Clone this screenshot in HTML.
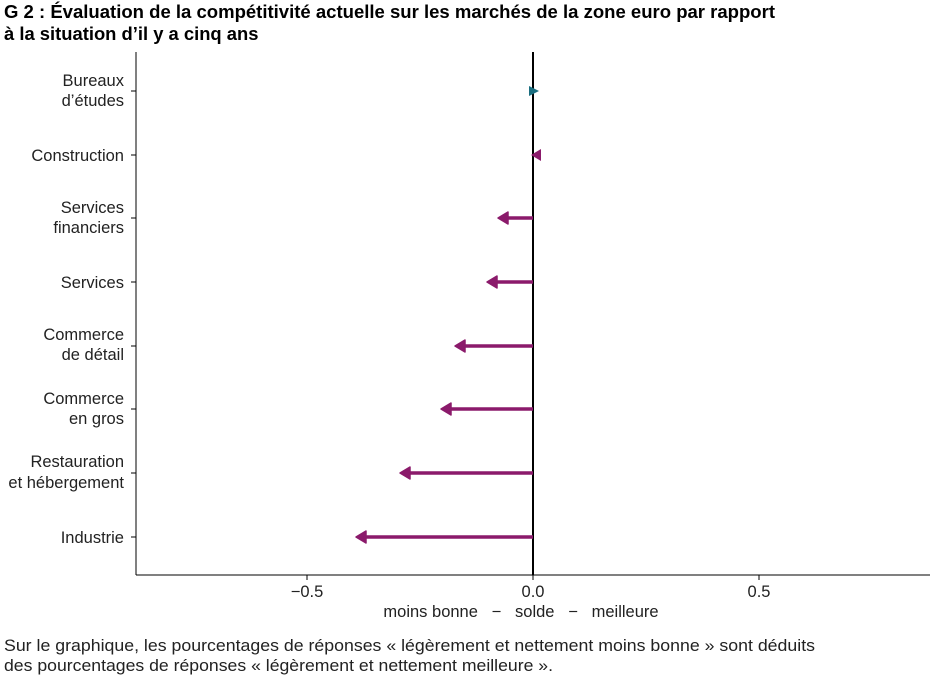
<!DOCTYPE html>
<html><head><meta charset="utf-8"><style>
body{margin:0;background:#fff;width:930px;height:678px;overflow:hidden;font-family:"Liberation Sans",sans-serif}
</style></head><body>
<svg width="930" height="678" xmlns="http://www.w3.org/2000/svg" font-family="Liberation Sans, sans-serif">
<text x="4" y="18" font-size="18.4" font-weight="bold" fill="#000" textLength="771" lengthAdjust="spacingAndGlyphs">G 2 : Évaluation de la compétitivité actuelle sur les marchés de la zone euro par rapport</text>
<text x="4" y="40" font-size="18.4" font-weight="bold" fill="#000">à la situation d’il y a cinq ans</text>
<line x1="136" y1="52" x2="136" y2="575" stroke="#000" stroke-width="1"/>
<line x1="136" y1="575" x2="930" y2="575" stroke="#000" stroke-width="1"/>
<line x1="533" y1="52" x2="533" y2="575" stroke="#000" stroke-width="2"/>
<g stroke="#000" stroke-width="1">
<line x1="131" y1="91" x2="136" y2="91"/><line x1="131" y1="155" x2="136" y2="155"/>
<line x1="131" y1="218" x2="136" y2="218"/><line x1="131" y1="282" x2="136" y2="282"/>
<line x1="131" y1="346" x2="136" y2="346"/><line x1="131" y1="409" x2="136" y2="409"/>
<line x1="131" y1="473" x2="136" y2="473"/><line x1="131" y1="537" x2="136" y2="537"/>
<line x1="307" y1="575" x2="307" y2="580"/><line x1="533" y1="575" x2="533" y2="580"/><line x1="759" y1="575" x2="759" y2="580"/>
</g>
<g font-size="16.5" fill="#222" text-anchor="end">
<text x="124" y="86">Bureaux</text><text x="124" y="106">d’études</text>
<text x="124" y="161">Construction</text>
<text x="124" y="213">Services</text><text x="124" y="233">financiers</text>
<text x="124" y="288">Services</text>
<text x="124" y="340">Commerce</text><text x="124" y="360">de détail</text>
<text x="124" y="404">Commerce</text><text x="124" y="424">en gros</text>
<text x="124" y="467">Restauration</text><text x="124" y="488">et hébergement</text>
<text x="124" y="543">Industrie</text>
</g>
<g font-size="16.5" fill="#222" text-anchor="middle">
<text x="307" y="597">−0.5</text><text x="533" y="597">0.0</text><text x="759" y="597">0.5</text>
<text x="521" y="617" xml:space="preserve">moins bonne   −   solde   −   meilleure</text>
</g>
<polygon points="529,86 539,91 529,96" fill="#1a6e80"/>
<polygon points="541,149 531,155 541,161" fill="#8b1a6b"/>
<g stroke="#8b1a6b" stroke-width="3.5">
<line x1="533" y1="218" x2="504" y2="218"/>
<line x1="533" y1="282" x2="493" y2="282"/>
<line x1="533" y1="346" x2="461" y2="346"/>
<line x1="533" y1="409" x2="447" y2="409"/>
<line x1="533" y1="473" x2="406" y2="473"/>
<line x1="533" y1="537" x2="362" y2="537"/>
</g>
<g fill="#8b1a6b" stroke="#8b1a6b" stroke-width="1.5" stroke-linejoin="round">
<polygon points="508,212 498,218 508,224"/>
<polygon points="497,276 487,282 497,288"/>
<polygon points="465,340 455,346 465,352"/>
<polygon points="451,403 441,409 451,415"/>
<polygon points="410,467 400,473 410,479"/>
<polygon points="366,531 356,537 366,543"/>
</g>
<text x="4" y="651" font-size="16.5" fill="#222" textLength="811" lengthAdjust="spacingAndGlyphs">Sur le graphique, les pourcentages de réponses « légèrement et nettement moins bonne » sont déduits</text>
<text x="4" y="671" font-size="16.5" fill="#222" textLength="549" lengthAdjust="spacingAndGlyphs">des pourcentages de réponses « légèrement et nettement meilleure ».</text>
</svg>
</body></html>
